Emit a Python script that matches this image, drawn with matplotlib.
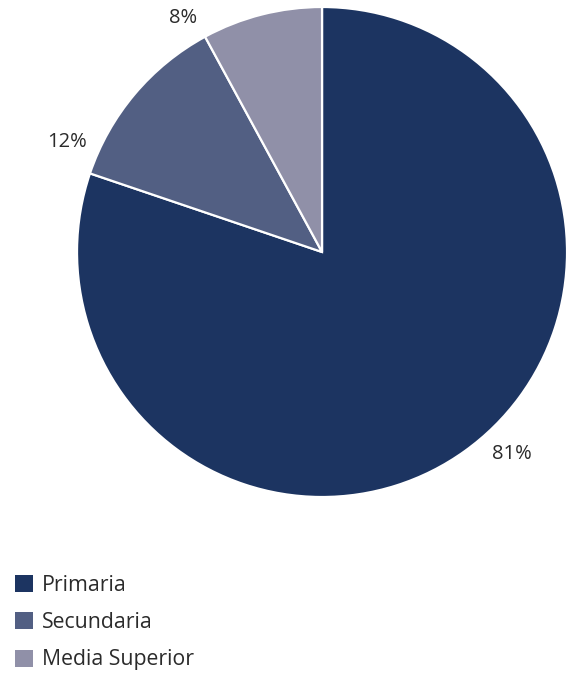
import numpy as np
import matplotlib.pyplot as plt
from matplotlib.patches import Patch

# Distribución por nivel educativo
categorias = ['Primaria', 'Secundaria', 'Media Superior']
porcentajes = [81, 12, 8]
colores = ['#1c3461', '#525f83', '#9090a8']

plt.rcParams['font.family'] = ['Open Sans', 'DejaVu Sans']
texto = '#2b2b2b'

fig = plt.figure(figsize=(5.68, 6.73), dpi=100)
ax = fig.add_axes([0.1356, 0.2615, 0.8627, 0.7281])

wedges, etiquetas = ax.pie(
    porcentajes,
    labels=[f'{p}%' for p in porcentajes],
    colors=colores,
    startangle=90,
    counterclock=False,
    wedgeprops=dict(edgecolor='white', linewidth=1.6, clip_on=False),
    textprops=dict(fontsize=14.5, color=texto),
)

# etiquetas fuera del círculo (ángulo en grados, distancia en radios)
pos_etiquetas = [(-46.8, 1.13), (156.7, 1.135), (120.8, 1.11)]
for t, (ang, d) in zip(etiquetas, pos_etiquetas):
    a = np.deg2rad(ang)
    t.set_position((d * np.cos(a), d * np.sin(a)))
    t.set_horizontalalignment('center')
    t.set_verticalalignment('center')
    t.set_clip_on(False)
ax.set_xlim(-1, 1)
ax.set_ylim(-1, 1)
ax.set_aspect('equal')

handles = [Patch(facecolor=c, edgecolor='none') for c in colores]
fig.legend(handles, categorias, loc='upper left', bbox_to_anchor=(0.026, 0.146),
           frameon=False, fontsize=15.3, labelcolor=texto,
           handlelength=0.85, handleheight=0.85, handletextpad=0.42,
           labelspacing=0.77, borderpad=0, borderaxespad=0)

fig.savefig('out.png', dpi=100)
